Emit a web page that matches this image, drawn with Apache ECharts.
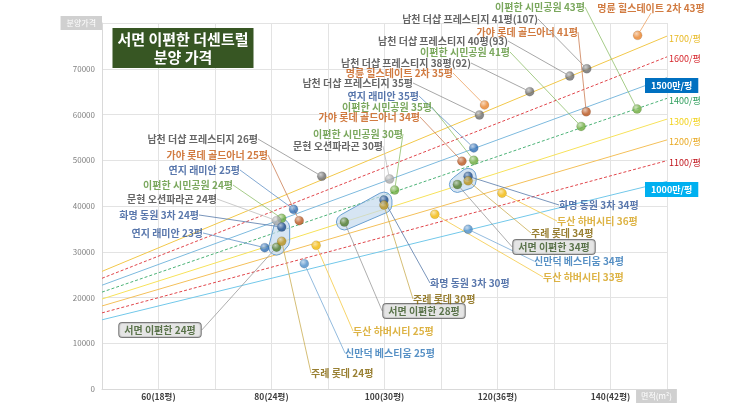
<!DOCTYPE html>
<html>
<head>
<meta charset="utf-8">
<script src="https://cdn.jsdelivr.net/npm/echarts@6/dist/echarts.min.js"></script>
<style>
  html, body { margin: 0; padding: 0; background: #fff; }
  #chart { width: 743px; height: 418px; }
</style>
</head>
<body>
<div id="chart"></div>
<script>
// 단지 목록
const projects = ['남천 더샵 프레스티지', '명륜 힐스테이트 2차', '가야 롯데 골드아너', '연지 래미안', '이편한 시민공원',
  '문현 오션파라곤', '화명 동원 3차', '서면 이편한', '주례 롯데', '두산 하버시티', '신만덕 베스티움']

// 각 점: 단지, 평형, 면적(m2), 분양가(만원)
const pointProject = [0, 0, 0, 0, 0, 1, 1, 2, 2, 2, 3, 3, 3, 4, 4, 4, 4, 4, 5, 5, 6, 6, 6, 7, 7, 7, 8, 8, 8, 9, 9, 9, 10, 10]
const pointSize = ['26평', '35평', '38평(92)', '40평(93)', '41평(107)', '35평', '43평', '25평', '34평', '41평',
  '23평', '25평', '35평', '24평', '30평', '35평', '41평', '43평', '24평', '30평', '24평', '30평', '34평',
  '24평', '28평', '34평', '24평', '30평', '34평', '25평', '33평', '36평', '25평', '34평']
const pointArea = [88.9, 116.8, 125.7, 132.8, 135.8, 117.7, 144.8, 84.9, 113.7, 135.7,
  78.8, 83.9, 115.8, 81.8, 101.8, 115.8, 134.8, 144.7, 80.9, 100.9, 81.8, 99.9, 114.8,
  80.9, 92.9, 112.9, 81.8, 99.9, 114.8, 87.9, 108.9, 120.8, 85.8, 114.8]
const pointPrice = [46500, 59900, 65000, 68400, 70000, 62100, 77300, 36800, 49800, 60600,
  30900, 39300, 52700, 37300, 43500, 50000, 57400, 61200, 36800, 45900, 35400, 41300, 46500,
  31000, 36500, 44700, 32300, 40200, 45500, 31400, 38200, 42800, 27400, 34900]

// 서면 이편한 비교 묶음 (점 번호)
const clusterGroups = [[20, 23, 26], [21, 24, 27], [22, 25, 28]]

// 평당가 기준선
const rates = [1700, 1600, 1500, 1400, 1300, 1200, 1100, 1000]
const rateLabels = ['1700/평', '1600/평', '1500만/평', '1400/평', '1300/평', '1200/평', '1100/평', '1000만/평']
const xTickLabels = { 60: '60(18평)', 80: '80(24평)', 100: '100(30평)', 120: '120(36평)', 140: '140(42평)' }
const M2_PER_PY = 3.3058

// ---- styles / layout ----
const projColor = ['#6b6b6b', '#e8822a', '#b9541c', '#2e6db4', '#6aaa3a', '#a8a8a8', '#1f4e8c', '#4f7a2a', '#b8911a', '#f2b705', '#4a8cc8']
const projText = ['#404040', '#c55a11', '#c55a11', '#2f5597', '#5a9236', '#404040', '#2f5597', '#375623', '#7f6000', '#d4a017', '#2e75b6']
const rateColor = ['#f2c84a', '#e0464b', '#7dbade', '#4cb277', '#f7e25a', '#f4c05a', '#e0464b', '#72c8ea']
const rateDash = ['solid', [3, 2], 'solid', [3, 2], 'solid', 'solid', [3, 2], 'solid']
const rateText = ['#e8b923', '#d6252b', '#fff', '#2e9e5b', '#f2d21b', '#e8a820', '#c0141c', '#fff']
const rateBox = [null, null, '#0070c0', null, null, null, null, '#00b0f0']
const labelAnchor = [
  [258, 139, 'right'], [413, 83, 'right'], [471, 63, 'right'], [508, 41, 'right'], [538, 19, 'right'],
  [453, 73, 'right'], [651, 8, 'center'],
  [268, 155, 'right'], [420, 117, 'right'], [578, 32, 'right'],
  [203, 233, 'right'], [240, 170, 'right'], [419, 96, 'right'],
  [233, 185, 'right'], [403, 134, 'right'], [432, 107, 'right'], [510, 52, 'right'], [540, 7, 'center'],
  [217, 199, 'right'], [383, 146, 'right'],
  [199, 215, 'right'], [430, 283, 'left'], [559, 205, 'left'],
  [160, 330, 'center'], [424, 311, 'center'], [554, 247, 'center'],
  [311, 373, 'left'], [413, 299, 'left'], [531, 233, 'left'],
  [353, 331, 'left'], [543, 277, 'left'], [557, 221, 'left'],
  [345, 353, 'left'], [534, 261, 'left']
]
const FONT = '"Noto Sans CJK KR", "Noto Sans", sans-serif'

function lighten(hex, k) {
  const n = parseInt(hex.slice(1), 16)
  const r = (n >> 16) & 255, g = (n >> 8) & 255, b = n & 255
  const f = c => Math.round(c + (255 - c) * k)
  return 'rgb(' + f(r) + ',' + f(g) + ',' + f(b) + ')'
}

function hull(pts) {
  pts = pts.slice().sort((a, b) => a[0] - b[0] || a[1] - b[1])
  const cross = (o, a, b) => (a[0] - o[0]) * (b[1] - o[1]) - (a[1] - o[1]) * (b[0] - o[0])
  const lower = [], upper = []
  for (const p of pts) {
    while (lower.length >= 2 && cross(lower[lower.length - 2], lower[lower.length - 1], p) <= 0) lower.pop()
    lower.push(p)
  }
  for (let i = pts.length - 1; i >= 0; i--) {
    const p = pts[i]
    while (upper.length >= 2 && cross(upper[upper.length - 2], upper[upper.length - 1], p) <= 0) upper.pop()
    upper.push(p)
  }
  upper.pop(); lower.pop()
  return lower.concat(upper)
}

const scatterData = pointArea.map((a, i) => {
  const p = pointProject[i]
  const isBox = p === 7
  return {
    name: projects[p] + ' ' + pointSize[i],
    value: [a, pointPrice[i]],
    itemStyle: {
      color: {
        type: 'radial', x: 0.38, y: 0.32, r: 0.7,
        colorStops: [{ offset: 0, color: lighten(projColor[p], 0.6) }, { offset: 0.6, color: projColor[p] }, { offset: 1, color: projColor[p] }]
      },
      borderColor: 'rgba(0,0,0,0.25)',
      borderWidth: 0.5
    },
    label: isBox ? {
      color: projText[p], backgroundColor: '#dedede', borderColor: '#595959', borderWidth: 1,
      borderRadius: 3, padding: [2, 5], fontSize: 10
    } : { color: projText[p] },
    labelLine: { lineStyle: { color: isBox ? '#999' : lighten(projColor[p], 0.25) } }
  }
})

const rateSeries = rates.map((r, k) => ({
  type: 'line',
  silent: true,
  symbol: 'none',
  z: 1,
  data: [[50, r * 50 / M2_PER_PY], [150, r * 150 / M2_PER_PY]],
  lineStyle: { color: rateColor[k], width: 1, type: rateDash[k] },
  endLabel: {
    show: true,
    formatter: rateLabels[k],
    color: rateText[k],
    fontFamily: FONT,
    fontSize: 9,
    fontWeight: rateBox[k] ? 'bold' : 'normal',
    backgroundColor: rateBox[k] || 'transparent',
    padding: rateBox[k] ? [3, 6] : 0,
    offset: rateBox[k] ? [-30, 8] : [-6, 2]
  }
}))

const chart = echarts.init(document.getElementById('chart'))
const option = {
  animation: false,
  textStyle: { fontFamily: FONT },
  title: {
    text: '서면 이편한 더센트럴\n분양 가격',
    left: 178,
    top: 28,
    textAlign: 'center',
    backgroundColor: '#375623',
    padding: [2, 5],
    textStyle: { color: '#fff', fontSize: 15, lineHeight: 18, fontWeight: 'bold', fontFamily: FONT }
  },
  grid: { left: 102, right: 76, top: 23, bottom: 29 },
  xAxis: {
    type: 'value',
    min: 50,
    max: 150,
    interval: 10,
    name: '면적(m²)',
    nameLocation: 'end',
    nameGap: -12,
    nameTextStyle: {
      color: '#fff', backgroundColor: '#d0d0d0', padding: [3, 5], fontSize: 8,
      align: 'center', verticalAlign: 'top', fontFamily: FONT
    },
    axisLine: { lineStyle: { color: '#d9d9d9' } },
    axisTick: { show: false },
    axisLabel: {
      interval: 0,
      color: '#404040',
      fontSize: 8.5,
      fontWeight: 'bold',
      margin: 4,
      formatter: v => xTickLabels[v] || ''
    },
    splitLine: { lineStyle: { color: '#e3e3e3' } }
  },
  yAxis: {
    type: 'value',
    min: 0,
    max: 80000,
    interval: 10000,
    name: '분양가격',
    nameLocation: 'end',
    nameGap: 0,
    nameTextStyle: {
      color: '#fff', backgroundColor: '#d0d0d0', padding: [3, 6], fontSize: 8,
      align: 'right', verticalAlign: 'middle', fontFamily: FONT
    },
    axisLine: { show: true, lineStyle: { color: '#d9d9d9' } },
    axisTick: { show: false },
    axisLabel: {
      color: '#808080',
      fontSize: 8,
      margin: 7,
      formatter: v => (v === 80000 ? '' : v)
    },
    splitLine: { lineStyle: { color: '#e3e3e3' } }
  },
  series: rateSeries.concat([
    {
      type: 'custom',
      z: 2,
      silent: true,
      encode: { x: 1, y: 2 },
      data: clusterGroups.map((g, gi) => [gi,
        g.reduce((s, i) => s + pointArea[i], 0) / g.length,
        g.reduce((s, i) => s + pointPrice[i], 0) / g.length]),
      renderItem: function (params, api) {
        const g = clusterGroups[api.value(0)]
        const pts = []
        g.forEach(i => {
          const c = api.coord([pointArea[i], pointPrice[i]])
          for (let k = 0; k < 12; k++) {
            const t = k * Math.PI / 6
            pts.push([c[0] + 8 * Math.cos(t), c[1] + 8 * Math.sin(t)])
          }
        })
        return {
          type: 'polygon',
          shape: { points: hull(pts) },
          style: { fill: 'rgba(196,218,238,0.7)', stroke: '#6a9fd0', lineWidth: 1 }
        }
      }
    },
    {
      type: 'scatter',
      z: 5,
      symbolSize: 9,
      data: scatterData,
      label: {
        show: true,
        formatter: '{b}',
        fontFamily: FONT,
        fontSize: 10,
        fontWeight: 'bold'
      },
      labelLine: { show: true, lineStyle: { width: 0.8 } },
      labelLayout: function (params) {
        const a = labelAnchor[params.dataIndex]
        return { x: a[0], y: a[1], align: a[2], verticalAlign: 'middle' }
      }
    }
  ])
}
chart.setOption(option)
window.addEventListener('resize', function () {
  chart.resize()
})
</script>
</body>
</html>
